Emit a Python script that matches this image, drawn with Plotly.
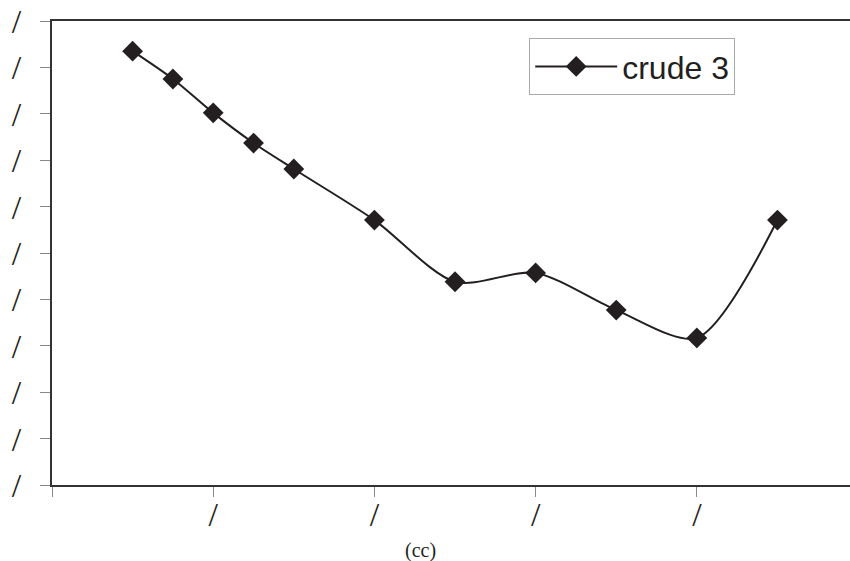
import plotly.graph_objects as go

# x in tick units, y in gridline units (labels in the source did not render: "/")
x_vals = [0.5, 0.75, 1.0, 1.25, 1.5, 2.0, 2.5, 3.0, 3.5, 4.0, 4.5]
y_vals = [9.35, 8.75, 8.02, 7.37, 6.81, 5.71, 4.38, 4.57, 3.77, 3.17, 5.71]
x_ticks = [0, 1, 2, 3, 4]
x_ticktext = ["", "/", "/", "/", "/"]
y_ticks = list(range(0, 11))
y_ticktext = ["/"] * 11

INK = "#231f20"

fig = go.Figure(
    data=[
        go.Scatter(
            x=x_vals,
            y=y_vals,
            mode="lines+markers",
            name="crude 3",
            line={"color": INK, "width": 2, "shape": "spline", "smoothing": 0.8},
            marker={"symbol": "diamond", "size": 16, "color": INK},
        )
    ]
)

fig.update_layout(
    width=850,
    height=561,
    margin={"l": 52, "r": 0, "t": 21, "b": 76},
    plot_bgcolor="white",
    paper_bgcolor="white",
    showlegend=True,
    legend={
        "x": 0.598,
        "y": 0.963,
        "xanchor": "left",
        "yanchor": "top",
        "bordercolor": "#aaaaaa",
        "borderwidth": 1,
        "bgcolor": "white",
        "font": {"family": "Liberation Sans, Arial", "size": 32, "color": INK},
        "itemwidth": 82,
    },
    xaxis={
        "range": [0, 4.95],
        "automargin": False,
        "tickvals": x_ticks,
        "ticktext": x_ticktext,
        "ticks": "outside",
        "ticklen": 10,
        "tickcolor": "#888888",
        "tickfont": {"family": "Liberation Serif", "size": 34, "color": INK},
        "ticklabelstandoff": -12,
        "ticklabeloverflow": "allow",
        "showline": True,
        "linecolor": "#333333",
        "linewidth": 2,
        "mirror": True,
        "showgrid": False,
        "zeroline": False,
    },
    yaxis={
        "range": [0, 10],
        "automargin": False,
        "tickvals": y_ticks,
        "ticktext": y_ticktext,
        "ticks": "outside",
        "ticklen": 10,
        "tickcolor": "#888888",
        "tickfont": {"family": "Liberation Serif", "size": 34, "color": INK},
        "ticklabelstandoff": 12,
        "ticklabeloverflow": "allow",
        "showline": True,
        "linecolor": "#333333",
        "linewidth": 2,
        "showgrid": False,
        "zeroline": False,
    },
    annotations=[
        {
            "text": "(cc)",
            "xref": "paper",
            "yref": "paper",
            "x": (420 - 52) / 798,
            "y": -(550 - 485) / 464,
            "xanchor": "center",
            "yanchor": "middle",
            "showarrow": False,
            "font": {"family": "Liberation Serif", "size": 20, "color": INK},
        }
    ],
)

# drop the default page margin so the figure sits at the window's corner
fig.write_html(
    "out.html",
    config={"displayModeBar": False, "displaylogo": False},
    post_script="document.body.style.margin='0';document.body.style.overflow='hidden';",
)
